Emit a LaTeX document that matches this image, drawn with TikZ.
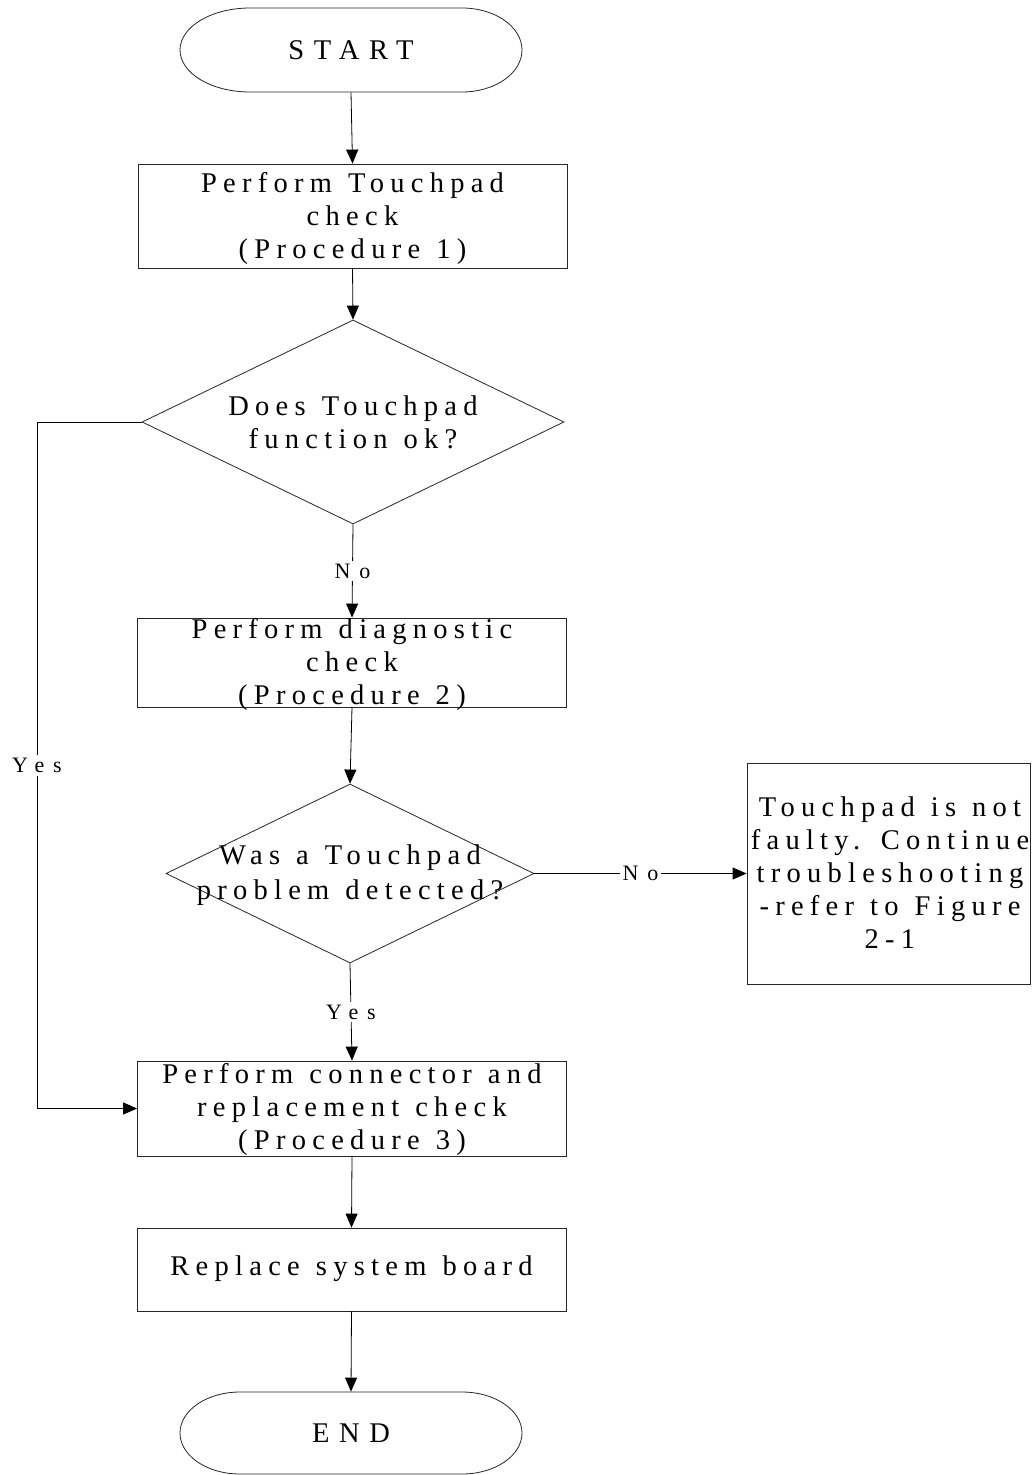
\documentclass[tikz,border=0pt]{standalone}
\usepackage{fontspec}
\setmainfont{Liberation Serif}
\newfontfamily\lsfont[LetterSpace=22,WordSpace=1.2]{Liberation Serif}
\newfontfamily\lsbig[LetterSpace=34]{Liberation Serif}
\newfontfamily\lslbl[LetterSpace=40]{Liberation Serif}
\usetikzlibrary{arrows.meta,shapes.geometric}
\begin{document}
\begin{tikzpicture}[x=1pt,y=-1pt,line width=0.8pt,
  >={Triangle[width=12pt,length=14pt]},
  box/.style={draw=black!85, rectangle, minimum width=429, inner sep=0pt},
  dia/.style={draw=black!85, diamond, inner sep=0pt},
  txt/.style={font=\lsfont\fontsize{28.5}{33}\selectfont, align=center, inner sep=0pt},
  bigtxt/.style={font=\lsbig\fontsize{28.5}{33}\selectfont, align=center, inner sep=0pt},
  lbl/.style={font=\lslbl\fontsize{22}{26}\selectfont, fill=white, inner sep=3pt},
  conn/.style={draw=black, ->}]
\fill[white] (0,0) rectangle (1031,1475);
\useasboundingbox (0,0) rectangle (1031,1475);

% START terminal
\node[bigtxt, minimum width=342, minimum height=84] (start) at (351,50) {START};
\draw[draw=black!85] (250,8) -- (462,8) arc[start angle=-90,end angle=90,x radius=60,y radius=42]
  -- (250,92) arc[start angle=90,end angle=270,x radius=70,y radius=42] -- cycle;

% boxes
\node[box, minimum height=104] (b1) at (352.5,216) {};
\node[txt] (b1t) at (352.5,218) {Perform Touchpad\\check\\(Procedure 1)};

\node[dia, minimum width=422, minimum height=204] (d1) at (353,422) {};
\node[txt] (d1t) at (353,422) {Does Touchpad\\function ok?};

\node[box, minimum height=89] (b2) at (352,662.5) {};
\node[txt] (b2t) at (352,664) {Perform diagnostic\\check\\(Procedure 2)};

\node[dia, minimum width=368, minimum height=179] (d2) at (350,873.5) {};
\node[txt, font=\lsfont\fontsize{28.5}{35}\selectfont] (d2t) at (350,875) {Was a Touchpad\\problem detected?};

\node[box, minimum width=283, minimum height=221] (rb) at (888.5,873.5) {};
\node[txt] (rbt) at (890,873) {Touchpad is not\\faulty. Continue\\troubleshooting\\-refer to Figure\\2-1};

\node[box, minimum height=95] (b3) at (352,1108.5) {};
\node[txt] (b3t) at (352,1109) {Perform connector and\\replacement check\\(Procedure 3)};

\node[box, minimum height=83] (b4) at (351.5,1269.5) {};
\node[txt] (b4t) at (351.5,1269) {Replace system board};

% END terminal
\node[bigtxt, minimum width=342, minimum height=82] (end) at (351,1433) {END};
\draw[draw=black!85] (240,1392) -- (462,1392) arc[start angle=-90,end angle=90,x radius=60,y radius=41]
  -- (240,1474) arc[start angle=90,end angle=270,x radius=60,y radius=41] -- cycle;

% connectors
\coordinate (c1) at (37,422);
\coordinate (c2) at (37,1108.5);
\draw[conn] (start.south) -- (b1.north);
\draw[conn] (b1.south) -- (d1.north);
\draw[conn] (d1.south) -- node[lbl] (no1) {No} (b2.north);
\draw[conn] (b2.south) -- (d2.north);
\draw[conn] (d2.east) -- node[lbl] (no2) {No} (rb.west);
\draw[conn] (d2.south) -- node[lbl] (yes1) {Yes} (b3.north);
\draw[conn] (d1.west) -- (c1) -- node[lbl] (yes2) {Yes} (c2) -- (b3.west);
\draw[conn] (b3.south) -- (b4.north);
\draw[conn] (b4.south) -- (end.north);
\end{tikzpicture}
\end{document}
